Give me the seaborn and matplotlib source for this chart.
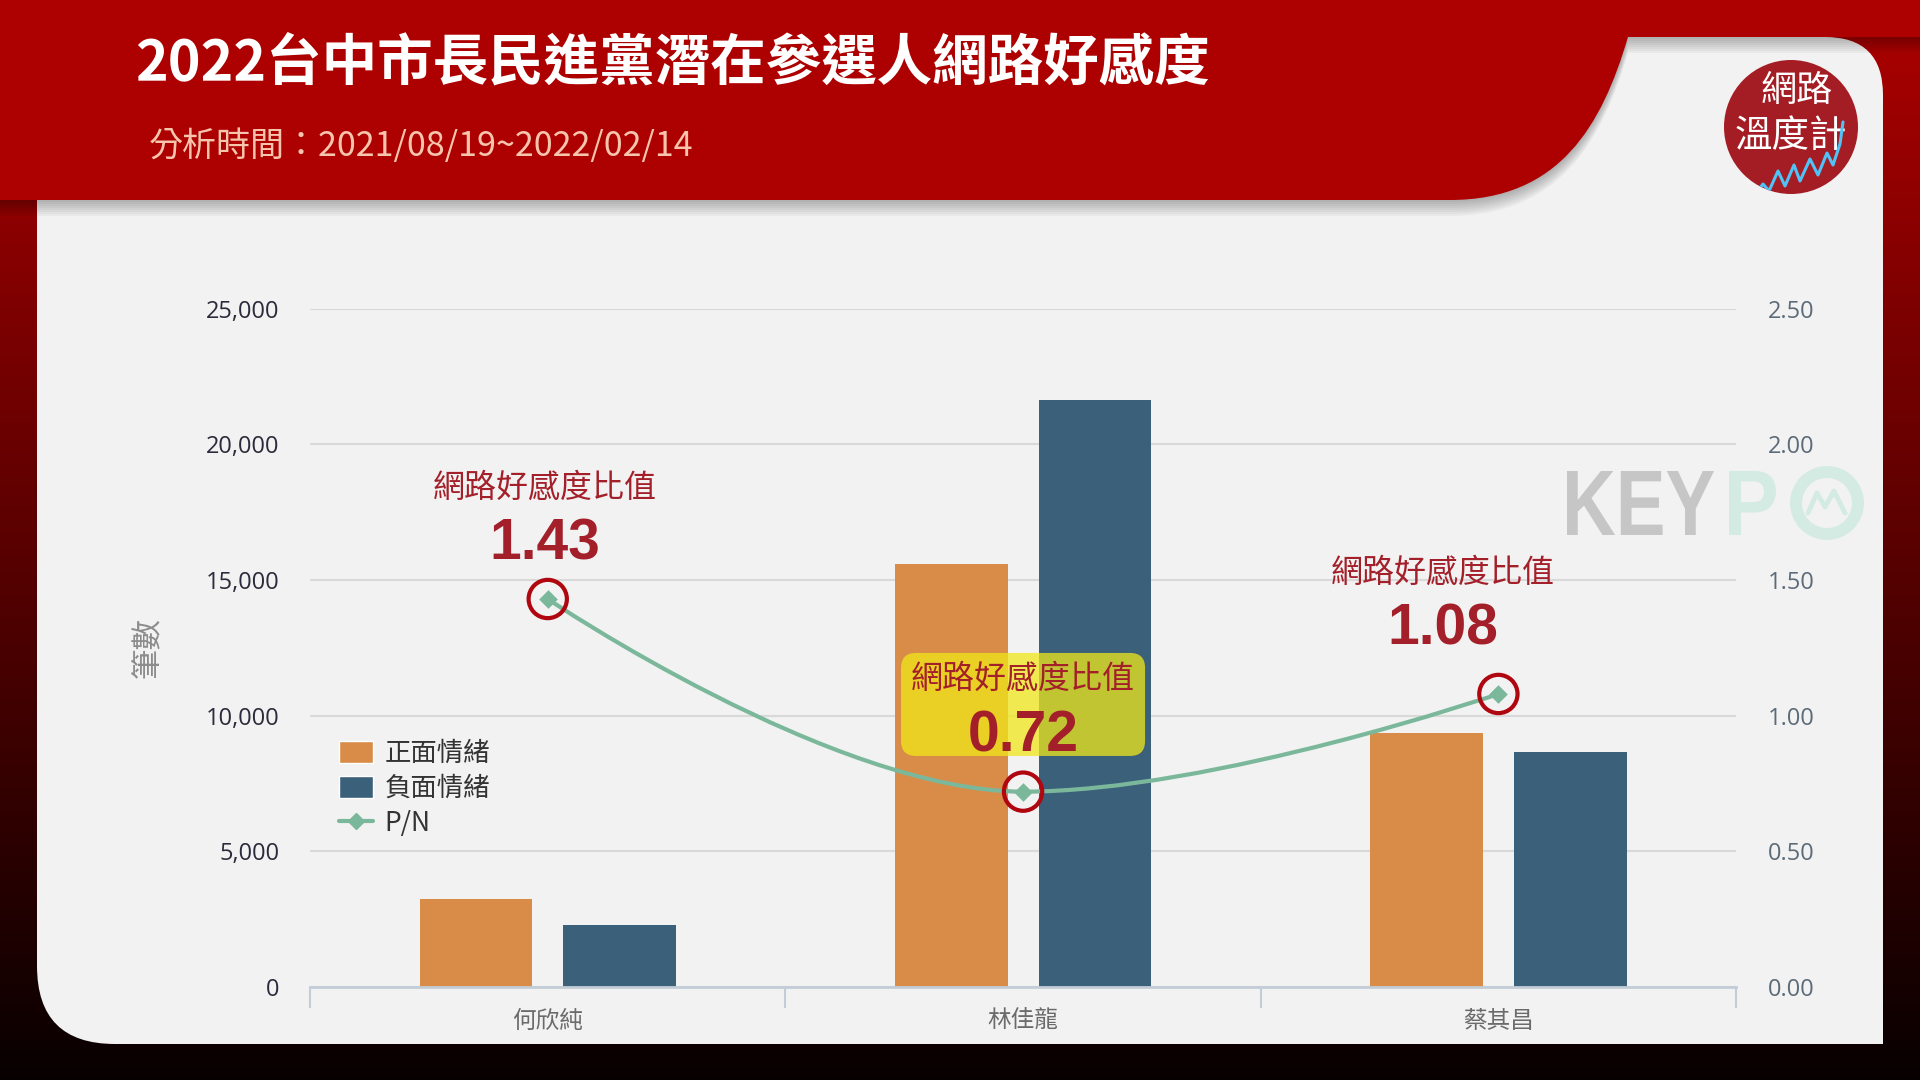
import numpy as np
import pandas as pd
import matplotlib
matplotlib.use("Agg")
import matplotlib.pyplot as plt
import matplotlib.patches as mpatches
import matplotlib.transforms as mtransforms
from matplotlib.path import Path
from matplotlib.lines import Line2D
from matplotlib.textpath import TextPath
from matplotlib.font_manager import FontProperties
import seaborn as sns

sns.set_theme(style="white")
plt.rcParams["font.family"] = ["Noto Sans CJK TC", "DejaVu Sans"]

# data
TITLE = "2022台中市長民進黨潛在參選人網路好感度"
SUBTITLE = "分析時間：2021/08/19~2022/02/14"
CANDIDATES = ["何欣純", "林佳龍", "蔡其昌"]
SERIES = ["正面情緒", "負面情緒"]
POSITIVE = [3250, 15600, 9350]
NEGATIVE = [2270, 21650, 8660]
PN_RATIO = [1.43, 0.72, 1.08]
PN_NAME = "P/N"
RATIO_LABEL = "網路好感度比值"
LEFT_TICKS = [0, 5000, 10000, 15000, 20000, 25000]
RIGHT_TICKS = [0.0, 0.5, 1.0, 1.5, 2.0, 2.5]
Y_LABEL = "筆數"

ORANGE = "#d98c48"
BLUE = "#3a607a"
GREEN = "#7bb89b"
DARKRED = "#a3202a"
RING = "#b00610"
PANEL = "#f2f2f2"
BANNER = "#ad0000"

# pixel offsets (label, number) of the ratio annotations from each point
LABEL_OFFSETS = [(-3, 111), (0, 113), (-56, 121)]
NUMBER_OFFSETS = [(-3, 54), (0, 55), (-56, 64)]


def spline_path(xs, ys, smoothing=1.5):
    """Smooth curve through the points (Highcharts-style spline)."""
    denom = smoothing + 1
    n = len(xs)
    lc = list(zip(xs, ys))
    rc = list(zip(xs, ys))
    for i in range(1, n - 1):
        px, py = xs[i], ys[i]
        lx, ly = xs[i - 1], ys[i - 1]
        nx, ny = xs[i + 1], ys[i + 1]
        lcx = (smoothing * px + lx) / denom
        lcy = (smoothing * py + ly) / denom
        rcx = (smoothing * px + nx) / denom
        rcy = (smoothing * py + ny) / denom
        corr = ((rcy - lcy) * (rcx - px)) / (rcx - lcx) + py - rcy
        lcy += corr
        rcy += corr
        if lcy > ly and lcy > py:
            lcy = max(ly, py); rcy = 2 * py - lcy
        elif lcy < ly and lcy < py:
            lcy = min(ly, py); rcy = 2 * py - lcy
        if rcy > ny and rcy > py:
            rcy = max(ny, py); lcy = 2 * py - rcy
        elif rcy < ny and rcy < py:
            rcy = min(ny, py); lcy = 2 * py - rcy
        lc[i] = (lcx, lcy)
        rc[i] = (rcx, rcy)
    verts = [(xs[0], ys[0])]
    codes = [Path.MOVETO]
    for i in range(1, n):
        verts += [rc[i - 1], lc[i], (xs[i], ys[i])]
        codes += [Path.CURVE4] * 3
    return Path(verts, codes)


def boxed_text(ax, s, x0, x1, y0, y1, color, zorder=2):
    """Draw text as a path stretched into the pixel box (y grows downward)."""
    tp = TextPath((0, 0), s, size=100, prop=FontProperties(family="Liberation Sans", weight="bold"))
    ext = tp.get_extents()
    tr = (mtransforms.Affine2D()
          .translate(-ext.x0, -ext.y1)
          .scale((x1 - x0) / ext.width, -(y1 - y0) / ext.height)
          .translate(x0, y0))
    ax.add_patch(mpatches.PathPatch(tr.transform_path(tp), fc=color, ec="none", zorder=zorder))


fig = plt.figure(figsize=(19.2, 10.8), dpi=100, facecolor="black")

# ---------- background: gradient, panel, banner ----------
bg = fig.add_axes([0, 0, 1, 1])
t = np.linspace(0, 1, 256)[:, None]
top, bot = np.array([0.68, 0.0, 0.0]), np.array([0.03, 0.0, 0.0])
img = (top[None, None, :] * (1 - t[..., None]) + bot[None, None, :] * t[..., None])
bg.imshow(img, extent=[0, 1920, 1080, 0], aspect="auto", zorder=0)

r1, r2 = 78, 58
panel_verts = [(37, 37), (1883 - r2, 37), (1883, 37), (1883, 37 + r2),
               (1883, 1044), (37 + r1, 1044), (37, 1044), (37, 1044 - r1), (37, 37)]
panel_codes = [Path.MOVETO, Path.LINETO, Path.CURVE3, Path.CURVE3,
               Path.LINETO, Path.LINETO, Path.CURVE3, Path.CURVE3, Path.CLOSEPOLY]
bg.add_patch(mpatches.PathPatch(Path(panel_verts, panel_codes), fc=PANEL, ec="none", zorder=1))

banner_verts = [(0, 0), (1920, 0), (1920, 37), (1628, 37),
                (1602, 125), (1560, 200), (1450, 200), (0, 200), (0, 0)]
banner_codes = [Path.MOVETO, Path.LINETO, Path.LINETO, Path.LINETO,
                Path.CURVE4, Path.CURVE4, Path.CURVE4, Path.LINETO, Path.CLOSEPOLY]
banner = Path(banner_verts, banner_codes)
for k in range(1, 9):
    shadow = banner.transformed(mtransforms.Affine2D().translate(0, 2 * k))
    bg.add_patch(mpatches.PathPatch(shadow, fc="black", ec="none", alpha=0.035, zorder=2))
bg.add_patch(mpatches.PathPatch(banner, fc=BANNER, ec="none", zorder=3))

bg.text(135, 63, TITLE, color="white", fontsize=40, fontweight="bold",
        ha="left", va="center", zorder=5)
bg.text(149, 147, SUBTITLE, color="#f7c4ae", fontsize=24.5, fontweight="medium",
        ha="left", va="center", zorder=5)

# logo
logo = mpatches.Circle((1791, 127), 67, fc="#a51d24", ec="none", zorder=5)
bg.add_patch(logo)
bg.text(1797, 91, "網路", color="white", fontsize=26, fontweight="medium",
        ha="center", va="center", zorder=6)
bg.text(1791, 137, "溫度計", color="white", fontsize=27, fontweight="medium",
        ha="center", va="center", zorder=6)
zig_x = [1745, 1757, 1763, 1769, 1778, 1785, 1794, 1800, 1810, 1818, 1827, 1833, 1840, 1843]
zig_y = [200, 192, 184, 191, 171, 186, 165, 181, 159, 175, 153, 165, 144, 122]
zz, = bg.plot(zig_x, zig_y, color="#4fc3f7", lw=2.2, zorder=6)
zz.set_clip_path(logo)

# KEYPO watermark
boxed_text(bg, "KEY", 1567, 1714, 471, 535, "#c6c6c6")
boxed_text(bg, "P", 1729, 1776, 471, 535, "#d3ebe2")
bg.add_patch(mpatches.Circle((1827, 503), 31, fc="none", ec="#d3ebe2", lw=8.6, zorder=2))
bg.plot([1808, 1817, 1825, 1834, 1845], [513, 493, 507, 491, 513],
        color="#d3ebe2", lw=3.5, zorder=2)

bg.set_xlim(0, 1920)
bg.set_ylim(1080, 0)
bg.axis("off")

# ---------- chart ----------
ax = fig.add_axes([0.1615, 0.0861, 0.7427, 0.6281])
ax.set_facecolor("none")

df = pd.DataFrame({
    "候選人": CANDIDATES * 2,
    "情緒": [SERIES[0]] * len(CANDIDATES) + [SERIES[1]] * len(CANDIDATES),
    "筆數": POSITIVE + NEGATIVE,
})
sns.barplot(data=df, x="候選人", y="筆數", hue="情緒", palette=[ORANGE, BLUE],
            width=0.604, gap=0.215, saturation=1, linewidth=0, errorbar=None,
            legend=False, ax=ax, zorder=2)

ax.set_xlim(-0.5, len(CANDIDATES) - 0.5)
ax.set_ylim(LEFT_TICKS[0], LEFT_TICKS[-1])
ax.set_yticks(LEFT_TICKS)
ax.set_yticklabels([f"{v:,}" for v in LEFT_TICKS], fontsize=17, color="#2b2b3b",
                   family="Open Sans")
ax.yaxis.grid(True, color="#d9d9d9", linewidth=1.5)
ax.xaxis.grid(False)
ax.set_axisbelow(True)
for side in ["top", "left", "right"]:
    ax.spines[side].set_visible(False)
ax.spines["bottom"].set_color("#c3cdd8")
ax.spines["bottom"].set_linewidth(2)
ax.tick_params(axis="y", length=0, pad=22)

ax.set_xticks(range(len(CANDIDATES)))
ax.set_xticklabels(CANDIDATES, fontsize=17, color="#6b6b6b")
ax.set_xticks(np.arange(-0.5, len(CANDIDATES)), minor=True)
ax.tick_params(axis="x", which="major", length=0, pad=16.5)
ax.tick_params(axis="x", which="minor", bottom=True, length=15, width=1.5,
               color="#c3cdd8", direction="out")
ax.set_xlabel("")
ax.set_ylabel(Y_LABEL, fontsize=22, color="#8c8c8c")
ax.yaxis.set_label_coords(-0.1025, 0.5)

handles = [mpatches.Patch(facecolor=ORANGE, label=SERIES[0]),
           mpatches.Patch(facecolor=BLUE, label=SERIES[1]),
           Line2D([0], [0], color=GREEN, lw=3, marker="D", ms=8, label=PN_NAME)]
leg = ax.legend(handles=handles, loc="upper left", bbox_to_anchor=(0.020, 0.364),
                frameon=False, fontsize=19, handlelength=1.3, handleheight=0.95,
                handletextpad=0.45, labelspacing=0.3, borderpad=0, borderaxespad=0,
                prop={"weight": "medium", "size": 19})
for txt in leg.get_texts():
    txt.set_color("#333333")

# ---------- P/N ratio on the right axis ----------
ax2 = ax.twinx()
ax2.set_ylim(RIGHT_TICKS[0], RIGHT_TICKS[-1])
ax2.set_yticks(RIGHT_TICKS)
ax2.set_yticklabels([f"{v:.2f}" for v in RIGHT_TICKS], fontsize=17, color="#5d6b78",
                    family="Open Sans")
ax2.tick_params(axis="y", length=0, pad=23)
ax2.grid(False)
for side in ax2.spines:
    ax2.spines[side].set_visible(False)

xs = list(range(len(PN_RATIO)))
ax2.add_patch(mpatches.PathPatch(spline_path(xs, PN_RATIO), fill=False, ec=GREEN,
                                 lw=3, zorder=3, capstyle="round"))
sns.scatterplot(x=xs, y=PN_RATIO, marker="D", s=90, color=GREEN, linewidth=0,
                ax=ax2, zorder=4, legend=False)
ax2.scatter(xs, PN_RATIO, s=760, facecolors="none", edgecolors=RING, linewidths=3,
            zorder=7)

# highlighted box for the lowest ratio
low = int(np.argmin(PN_RATIO))
box_tr = fig.dpi_scale_trans + mtransforms.ScaledTranslation(low, PN_RATIO[low], ax2.transData)
ax2.add_patch(mpatches.FancyBboxPatch((-1.22, 0.357), 2.44, 1.03,
                                      boxstyle="round,pad=0,rounding_size=0.15",
                                      transform=box_tr, fc="#f0e81a", ec="none",
                                      alpha=0.75, zorder=5, clip_on=False))

for i, v in enumerate(PN_RATIO):
    ax2.annotate(RATIO_LABEL, xy=(i, v), xytext=LABEL_OFFSETS[i], textcoords="offset pixels",
                 ha="center", va="center", fontsize=23, color=DARKRED, zorder=6)
    ax2.annotate(f"{v:.2f}", xy=(i, v), xytext=NUMBER_OFFSETS[i], textcoords="offset pixels",
                 ha="center", va="center", fontsize=41, fontweight="bold",
                 family="Liberation Sans", color=DARKRED, zorder=6)

ax2.set_ylabel("")
ax2.set_xlim(-0.5, len(CANDIDATES) - 0.5)

fig.savefig("out.png", dpi=100, facecolor=fig.get_facecolor())
